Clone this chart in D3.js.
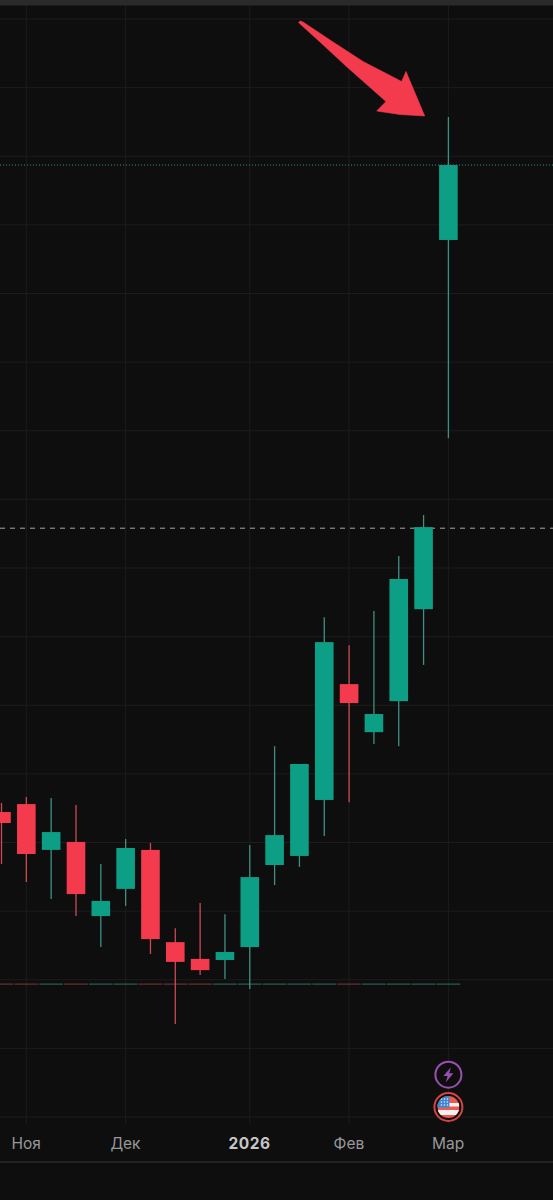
<!DOCTYPE html>
<html><head><meta charset="utf-8">
<script src="https://cdn.jsdelivr.net/npm/d3@7"></script>
<style>
html,body{margin:0;padding:0;background:#0e0e0f;overflow:hidden}
svg{display:block}
</style></head><body>
<svg id="c" width="553" height="1200"></svg>
<script>
const weeks = ["2025-10-27","2025-11-03","2025-11-10","2025-11-17","2025-11-24","2025-12-01","2025-12-08","2025-12-15","2025-12-22","2025-12-29","2026-01-05","2026-01-12","2026-01-19","2026-01-26","2026-02-02","2026-02-09","2026-02-16","2026-02-23","2026-03-02"];
const open  = [66.11,66.40,64.73,65.02,62.32,63.31,64.73,61.37,60.76,60.72,61.19,64.18,64.51,66.55,70.77,69.02,70.15,73.50,86.95];
const close = [65.71,64.58,65.38,63.12,62.87,64.80,61.48,60.65,60.35,61.01,63.74,65.27,67.86,72.30,70.08,69.68,74.60,76.49,89.68];
const high  = [66.44,66.66,66.62,66.37,64.22,65.13,64.98,61.88,62.80,62.39,64.91,68.51,67.86,73.21,72.19,73.43,75.44,76.93,91.43];
const low   = [64.22,63.56,62.94,62.32,61.19,62.69,60.94,58.39,60.17,60.03,59.66,63.45,64.11,65.24,66.47,68.59,68.51,71.47,79.73];
const priceTicks = d3.range(55, 95.1, 2.5);
const monthTicks = [["2025-11-03","Ноя"],["2025-12-01","Дек"],["2026-01-05","2026"],["2026-02-02","Фев"],["2026-03-02","Мар"]];
const lastPrice = 89.68, prevClose = 76.45, baseline = 59.84;

const GREEN="#0d9f85", RED="#f43b4e", GREENW="#3f9082", REDW="#cc4a55", GRID="#1d1d1e";
const svg=d3.select("#c");
const x=d3.scalePoint().domain(weeks).range([1.5,448.4]);
const y=d3.scaleLinear().domain([55,95]).range([1117,19]);
const bw=18.6, step=x.step();

svg.append("rect").attr("width",553).attr("height",1200).attr("fill","#0e0e0f");
svg.append("rect").attr("width",553).attr("height",5.5).attr("fill","#2a2a2b");

// grid
svg.append("g").selectAll("line").data(priceTicks).join("line")
  .attr("x1",0).attr("x2",553).attr("y1",d=>y(d)).attr("y2",d=>y(d))
  .attr("stroke",GRID).attr("stroke-width",1);
svg.append("g").selectAll("line").data(monthTicks).join("line")
  .attr("x1",d=>x(d[0])).attr("x2",d=>x(d[0])).attr("y1",5.5).attr("y2",1124)
  .attr("stroke",GRID).attr("stroke-width",1);

// price lines
svg.append("line").attr("x1",0).attr("x2",553).attr("y1",y(lastPrice)).attr("y2",y(lastPrice))
  .attr("stroke","#2f8f7f").attr("stroke-width",1).attr("stroke-dasharray","1 2");
svg.append("line").attr("x1",0).attr("x2",553).attr("y1",y(prevClose)).attr("y2",y(prevClose))
  .attr("stroke","#a8a8a8").attr("stroke-width",1).attr("stroke-dasharray","5 5");

// baseline strip
svg.append("g").selectAll("rect").data(weeks).join("rect")
  .attr("x",d=>x(d)-step/2+.5).attr("width",step-1).attr("y",y(baseline)-.75).attr("height",1.5)
  .attr("fill",(d,i)=>close[i]>=open[i]?"#23504a":"#5a2a2f");

// candles
const g=svg.append("g").selectAll("g").data(weeks).join("g");
g.append("line").attr("x1",d=>x(d)).attr("x2",d=>x(d))
  .attr("y1",(d,i)=>y(high[i])).attr("y2",(d,i)=>y(low[i]))
  .attr("stroke",(d,i)=>close[i]>=open[i]?GREENW:REDW).attr("stroke-width",1.3);
g.append("rect").attr("x",d=>x(d)-bw/2).attr("width",bw)
  .attr("y",(d,i)=>y(Math.max(open[i],close[i])))
  .attr("height",(d,i)=>Math.abs(y(open[i])-y(close[i])))
  .attr("fill",(d,i)=>close[i]>=open[i]?GREEN:RED);

// arrow annotation
svg.append("path").attr("fill",RED).attr("stroke",RED).attr("stroke-width",.6).attr("stroke-linejoin","round")
  .attr("d","M298.5,22.5 L300,21 L303,22 L330,40 L363,61.5 L401.7,81.5 L406,71.5 L424.7,116 L400,114.5 L376.7,111 L386,101.5 L347,67 L320,42 Z");

// time axis
const axis=d3.axisBottom(x).tickValues(monthTicks.map(d=>d[0]))
  .tickFormat(d=>monthTicks.find(m=>m[0]===d)[1]).tickSize(0).tickPadding(0);
const ax=svg.append("g").attr("transform","translate(-0.7,1148.5)").call(axis);
ax.select(".domain").remove();
ax.selectAll("text").attr("dy",0)
  .attr("font-family","Inter, 'Liberation Sans', sans-serif").attr("font-size",15.5)
  .attr("fill",d=>d.startsWith("2026-01")?"#c6c6c6":"#989898")
  .attr("font-weight",d=>d.startsWith("2026-01")?700:400)
  .attr("letter-spacing",d=>d.startsWith("2026-01")?"0.5px":"0");
svg.append("rect").attr("x",0).attr("y",1161).attr("width",553).attr("height",2).attr("fill","#222223");

// event icons
const cx=x(weeks[18]);
const ev=svg.append("g").attr("transform",`translate(${cx},1074.7)`);
ev.append("circle").attr("r",13).attr("fill","#0e0e0f").attr("stroke","#9a4fb2").attr("stroke-width",2);
ev.append("path").attr("fill","#9a4fb2").attr("d","M2.5,-7.5 L-5,1.2 L-0.8,1.2 L-2.5,7.5 L5,-1.5 L0.8,-1.5 Z");

const fl=svg.append("g").attr("transform",`translate(${cx},1107)`);
fl.append("clipPath").attr("id","fc").append("circle").attr("r",11);
fl.append("circle").attr("r",14).attr("fill","#0e0e0f").attr("stroke","#d5443e").attr("stroke-width",2);
const f=fl.append("g").attr("clip-path","url(#fc)");
f.append("rect").attr("x",-11).attr("y",-11).attr("width",22).attr("height",22).attr("fill","#ee5a50");
f.append("rect").attr("x",-11).attr("y",-4).attr("width",22).attr("height",3.5).attr("fill","#f4f1f0");
f.append("rect").attr("x",-11).attr("y",3).attr("width",22).attr("height",5).attr("fill","#f4f1f0");
f.append("rect").attr("x",-11).attr("y",-11).attr("width",12).attr("height",11.5).attr("fill","#3b86d4");
for(const yy of [-8,-5,-2]) for(const xx of [-7,-4,-1])
  f.append("circle").attr("cx",xx).attr("cy",yy).attr("r",.8).attr("fill","#e8eef7");
</script>
</body></html>
